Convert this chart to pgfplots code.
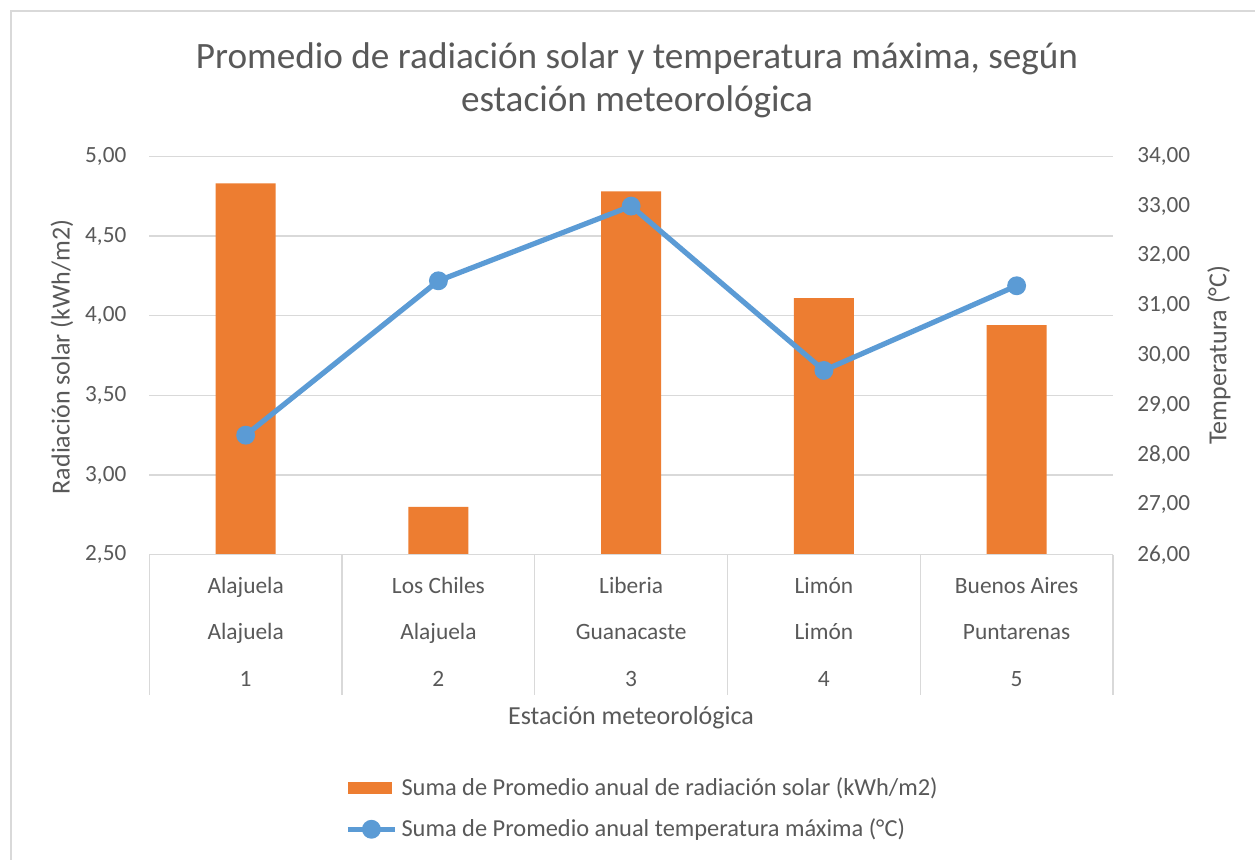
\documentclass[border=0pt]{standalone}
\usepackage{fontspec}
\setmainfont{Carlito}
\usepackage{pgfplots}
\pgfplotsset{compat=1.18}
\definecolor{txt}{HTML}{595959}
\definecolor{gridc}{HTML}{D9D9D9}
\definecolor{orangec}{HTML}{ED7D31}
\definecolor{bluec}{HTML}{5B9BD5}
\pgfplotsset{
  numfmt/.style={/pgf/number format/fixed, /pgf/number format/fixed zerofill,
    /pgf/number format/precision=2, /pgf/number format/use comma,
    /pgf/number format/assume math mode=true},
}
\tikzset{catfont/.style={anchor=base, text=txt, font=\fontsize{11.7}{14}\selectfont}}
\begin{document}
\begin{tikzpicture}[x=1pt,y=1pt]
\useasboundingbox (0,0) rectangle (627.5,430);
\fill[white] (0,0) rectangle (627.5,430);
\draw[gridc, line width=1pt] (5.25,0) -- (5.25,424.25) -- (627.5,424.25);
% title
\node[anchor=base, text=txt, font=\fontsize{18.6}{22}\selectfont] at (318.5,395.85) {Promedio de radiación solar y temperatura máxima, según};
\node[anchor=base, text=txt, font=\fontsize{18.6}{22}\selectfont] at (318.5,374.25) {estación meteorológica};
% axis titles
\node[anchor=base, text=txt, font=\fontsize{13}{15}\selectfont] at (315.5,67.5) {Estación meteorológica};
\node[rotate=90, text=txt, font=\fontsize{13}{15}\selectfont] at (31,251.5) {Radiación solar (kWh/m2)};
\node[rotate=90, text=txt, font=\fontsize{13}{15}\selectfont] at (609.5,252.5) {Temperatura (°C)};
\begin{axis}[
  at={(74.65pt,152.65pt)}, anchor=south west,
  scale only axis, width=481.85pt, height=199.2pt,
  xmin=0.5, xmax=5.5, ymin=2.5, ymax=5,
  xtick=\empty,
  ytick={2.5,3,3.5,4,4.5,5},
  axis line style={draw=none},
  major tick length=0pt,
  tick style={draw=none},
  ymajorgrids, grid style={gridc, line width=0.65pt},
  yticklabel style={numfmt, font=\fontsize{11.6}{14}\selectfont, text=txt, anchor=east, inner sep=0pt, xshift=-11.3pt},
  clip mode=individual,
]
\addplot[ybar, bar width=30pt, fill=orangec, draw=none] coordinates {(1,4.83) (2,2.80) (3,4.78) (4,4.11) (5,3.94)};
\draw[gridc, line width=0.65pt] (axis cs:0.5,2.5) -- (axis cs:5.5,2.5);
\pgfplotsinvokeforeach{0.5,1.5,2.5,3.5,4.5,5.5}{
  \draw[gridc, line width=0.65pt] (axis cs:#1,2.5) -- ++(0pt,-70pt);
}
\path (axis cs:1,2.5) ++(0pt,-19.65pt) node[catfont] {Alajuela} ++(0pt,-22.65pt) node[catfont] {Alajuela} ++(0pt,-23.7pt) node[catfont] {1};
\path (axis cs:2,2.5) ++(0pt,-19.65pt) node[catfont] {Los Chiles} ++(0pt,-22.65pt) node[catfont] {Alajuela} ++(0pt,-23.7pt) node[catfont] {2};
\path (axis cs:3,2.5) ++(0pt,-19.65pt) node[catfont] {Liberia} ++(0pt,-22.65pt) node[catfont] {Guanacaste} ++(0pt,-23.7pt) node[catfont] {3};
\path (axis cs:4,2.5) ++(0pt,-19.65pt) node[catfont] {Limón} ++(0pt,-22.65pt) node[catfont] {Limón} ++(0pt,-23.7pt) node[catfont] {4};
\path (axis cs:5,2.5) ++(0pt,-19.65pt) node[catfont] {Buenos Aires} ++(0pt,-22.65pt) node[catfont] {Puntarenas} ++(0pt,-23.7pt) node[catfont] {5};
\end{axis}
\begin{axis}[
  at={(74.65pt,152.65pt)}, anchor=south west,
  scale only axis, width=481.85pt, height=199.2pt,
  xmin=0.5, xmax=5.5, ymin=26, ymax=34,
  axis y line*=right, axis x line=none,
  ytick={26,27,28,29,30,31,32,33,34},
  axis line style={draw=none},
  major tick length=0pt,
  tick style={draw=none},
  yticklabel style={numfmt, font=\fontsize{11.6}{14}\selectfont, text=txt, anchor=west, inner sep=0pt, xshift=12pt},
  legend style={at={(0.203,-0.548)}, anchor=north west, draw=none, fill=none,
    inner sep=0pt, font=\fontsize{12.2}{14}\selectfont, text=txt,
    row sep=6.3pt, nodes={inner sep=2pt}},
  legend cell align=left,
]
\addlegendimage{legend image code/.code={\fill[orangec] (0pt,-2.9pt) rectangle (21.5pt,2.9pt);}}
\addlegendentry{Suma de Promedio anual de radiación solar (kWh/m2)}
\addplot[bluec, line width=2.6pt, mark=*, mark size=3.4pt,
  legend image code/.code={\draw[bluec, line width=2.6pt] (0pt,0pt) -- (23.5pt,0pt); \fill[bluec] (11.75pt,0pt) circle (3.4pt);}]
  coordinates {(1,28.4) (2,31.5) (3,33.0) (4,29.7) (5,31.4)};
\addlegendentry{Suma de Promedio anual temperatura máxima (°C)}
\end{axis}
\end{tikzpicture}
\end{document}
